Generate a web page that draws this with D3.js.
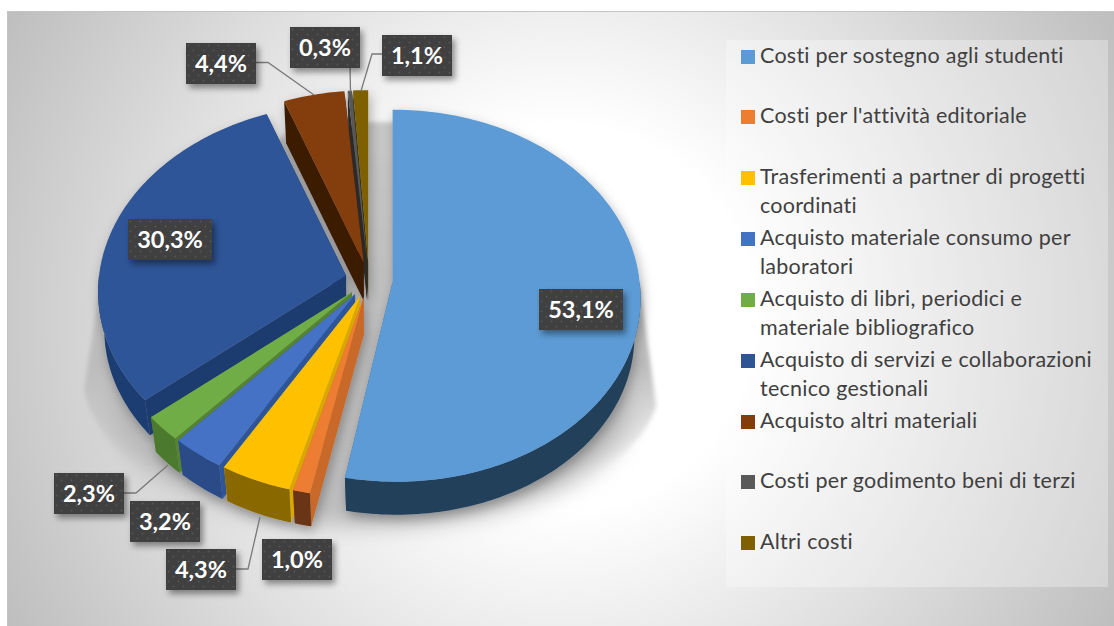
<!DOCTYPE html>
<html><head><meta charset="utf-8">
<script src="https://cdn.jsdelivr.net/npm/d3@7/dist/d3.min.js"></script>
<style>html,body{margin:0;padding:0;background:#fff}svg{display:block}</style>
</head><body><svg id="c" width="1114" height="626"></svg>
<script>
const categories = ["Costi per sostegno agli studenti","Costi per l'attività editoriale","Trasferimenti a partner di progetti coordinati","Acquisto materiale consumo per laboratori","Acquisto di libri, periodici e materiale bibliografico","Acquisto di servizi e collaborazioni tecnico gestionali","Acquisto altri materiali","Costi per godimento beni di terzi","Altri costi"];
const values = [53.1,1.0,4.3,3.2,2.3,30.3,4.4,0.3,1.1];
const valueLabels = ["53,1%","1,0%","4,3%","3,2%","2,3%","30,3%","4,4%","0,3%","1,1%"];
const legendLines = [["Costi per sostegno agli studenti"],["Costi per l'attività editoriale"],["Trasferimenti a partner di progetti","coordinati"],["Acquisto materiale consumo per","laboratori"],["Acquisto di libri, periodici e","materiale bibliografico"],["Acquisto di servizi e collaborazioni","tecnico gestionali"],["Acquisto altri materiali"],["Costi per godimento beni di terzi"],["Altri costi"]];

const faceColors = ["#5b9bd5","#ed7d31","#ffc000","#4472c4","#70ad47","#2f5597","#843c0c","#595959","#7f6000"];
const rimColors  = ["#233f5a","#6a3514","#8a6800","#294c87","#4c7a2e","#1f3d72","#3a1a05","#2b2b2b","#4a3800"];
const wallColors = ["#2c6aa0","#c8692a","#d9a800","#2f5597","#548235","#1f3b6e","#3a1a05","#2b2b2b","#3f3000"];
const boxes = [[539,289],[262,539],[166,549],[130,501],[54,473],[128,219],[186,43],[290,27],[382,35]];
const leaders = [null,null,[[236,569],[248,569],[260,517]],null,[[124,493],[136,493],[168,465]],null,[[256,62.5],[268,62.5],[314,95]],[[350,68],[350.5,92]],[[382,54],[372,54],[361,91]]];
const legendY = [50,110,171,232,293,354,415,475,536];

const cx=369, cy=280, rx=247, ry=185, persp=0.075, explode=0.096, depth=38, shrink=0.975, shear=0.017, firstShear=-0.02;
const svg=d3.select("#c");
const defs=svg.append("defs");
const bg=defs.append("radialGradient").attr("id","bg").attr("gradientUnits","userSpaceOnUse").attr("cx",561).attr("cy",318).attr("r",640);
[[0,"#ffffff"],[0.3,"#ffffff"],[1,"#bdbdbd"]].forEach(s=>bg.append("stop").attr("offset",s[0]).attr("stop-color",s[1]));
const sg=defs.append("linearGradient").attr("id","sg").attr("gradientUnits","userSpaceOnUse").attr("x1",0).attr("x2",0).attr("y1",120).attr("y2",470);
[[0,"#c8c8c8",1],[0.7,"#bcbcbc",1],[1,"#bcbcbc",0]].forEach(s=>sg.append("stop").attr("offset",s[0]).attr("stop-color",s[1]).attr("stop-opacity",s[2]));
defs.append("filter").attr("id","b1").attr("x","-10%").attr("y","-10%").attr("width","120%").attr("height","120%").append("feGaussianBlur").attr("stdDeviation",2);
defs.append("filter").attr("id","b2").attr("x","-20%").attr("y","-30%").attr("width","140%").attr("height","160%").append("feGaussianBlur").attr("stdDeviation",11);
const f2=defs.append("filter").attr("id","ps").attr("x","-10%").attr("y","-10%").attr("width","120%").attr("height","125%");
f2.append("feDropShadow").attr("dx",2).attr("dy",5).attr("stdDeviation",6).attr("flood-color","#000").attr("flood-opacity",0.3);
const f3=defs.append("filter").attr("id","ls").attr("x","-20%").attr("y","-20%").attr("width","150%").attr("height","160%");
f3.append("feDropShadow").attr("dx",3).attr("dy",4).attr("stdDeviation",3).attr("flood-color","#000").attr("flood-opacity",0.42);
const pat=defs.append("pattern").attr("id","dots").attr("patternUnits","userSpaceOnUse").attr("width",10).attr("height",10);
pat.append("rect").attr("width",10).attr("height",10).attr("fill","#3f3f3f");
[[2.5,2.5],[7.5,7.5]].forEach(p=>pat.append("circle").attr("cx",p[0]).attr("cy",p[1]).attr("r",1).attr("fill","#565656"));

svg.append("rect").attr("x",7.5).attr("y",11.5).attr("width",1107).attr("height",615).attr("fill","url(#bg)").attr("stroke","#c4c4c4");

// cast shadow
svg.append("ellipse").attr("cx",370).attr("cy",405).attr("rx",262).attr("ry",122).attr("fill","#b4b4b4").attr("fill-opacity",0.85).attr("filter","url(#b2)");
svg.append("path").attr("d","M300,122L440,122L640,285L656,405C640,470 500,545 370,545C240,545 100,470 84,390L100,285Z")
  .attr("fill","url(#sg)").attr("filter","url(#b1)");

// legend panel
svg.append("rect").attr("x",726).attr("y",40).attr("width",382).attr("height",547).attr("fill","#fff").attr("fill-opacity",0.3);

// pie
const color=d3.scaleOrdinal().domain(categories).range(faceColors);
const rim=d3.scaleOrdinal().domain(categories).range(rimColors);
const wall=d3.scaleOrdinal().domain(categories).range(wallColors);
const arcs=d3.pie().sort(null).value(d=>d.v).startAngle(0).endAngle(2*Math.PI)(categories.map((c,i)=>({c,v:values[i],i})));
const line=d3.line();
function proj(a,t){
  const w=1+persp*Math.cos(t), y=-ry*Math.cos(t)/w;
  const fade=Math.min(1,Math.abs(Math.sin(t))/0.3);
  const dx = a.index===0 ? firstShear*Math.max(y,0) : shear*y*fade;
  return [rx*Math.sin(t)/w-dx,y];
}
function apex(a){const m=(a.startAngle+a.endAngle)/2;return [cx+explode*rx*Math.sin(m),cy-explode*ry*Math.cos(m)];}
function edge(a,t){const A=apex(a),p=proj(a,t);return [A[0]+p[0],A[1]+p[1]];}
function under(a,t){const A=apex(a),p=proj(a,t);return [A[0]+p[0]*shrink,A[1]+p[1]*shrink+depth];}
function angles(t0,t1){const n=Math.max(2,Math.ceil((t1-t0)/0.02));return d3.range(n+1).map(i=>t0+(t1-t0)*i/n);}
const order=[8,7,6,5,0,4,3,2,1];
const pie=svg.append("g").attr("filter","url(#ps)");
order.forEach(i=>{
  const a=arcs[i],A=apex(a),d=a.data.c;
  const g=pie.append("g");
  [a.endAngle,a.startAngle].forEach(t=>{
    g.append("path").attr("d",line([A,edge(a,t),under(a,t),[A[0],A[1]+depth]])+"Z").attr("fill",wall(d));
  });
  const t0=Math.max(a.startAngle,Math.PI/2),t1=Math.min(a.endAngle,3*Math.PI/2);
  if(t1>t0){const ts=angles(t0,t1);
    g.append("path").attr("d",line(ts.map(t=>edge(a,t)).concat(ts.slice().reverse().map(t=>under(a,t))))+"Z").attr("fill",rim(d));}
  g.append("path").attr("d",line([A].concat(angles(a.startAngle,a.endAngle).map(t=>edge(a,t))))+"Z").attr("fill",color(d));
});

// leader lines
svg.append("g").selectAll("path").data(leaders.filter(Boolean)).join("path")
  .attr("d",d=>line(d)).attr("fill","none").attr("stroke","#7a7a7a").attr("stroke-width",1.3);

// data labels
const lab=svg.append("g").selectAll("g").data(valueLabels).join("g")
  .attr("transform",(d,i)=>`translate(${boxes[i][0]},${boxes[i][1]})`);
lab.append("rect").attr("width",d=>d.length>4?84:70).attr("height",41).attr("fill","url(#dots)").attr("filter","url(#ls)");
lab.append("text").text(d=>d).attr("x",d=>(d.length>4?84:70)/2).attr("y",29)
  .attr("text-anchor","middle").attr("fill","#fff").attr("font-family","Lato").attr("font-weight",700).attr("font-size",23.5);

// legend
const leg=svg.append("g").selectAll("g").data(categories).join("g").attr("transform",(d,i)=>`translate(741,${legendY[i]})`);
leg.append("rect").attr("width",14).attr("height",14).attr("fill",d=>color(d));
leg.each(function(d,i){
  d3.select(this).selectAll("text").data(legendLines[i]).join("text")
    .text(t=>t).attr("x",19).attr("y",(t,j)=>13+j*29.3)
    .attr("fill","#404040").attr("font-family","Lato").attr("font-size",21.5)
    .attr("letter-spacing",0.25).style("font-variant-ligatures","none");
});
</script></body></html>
